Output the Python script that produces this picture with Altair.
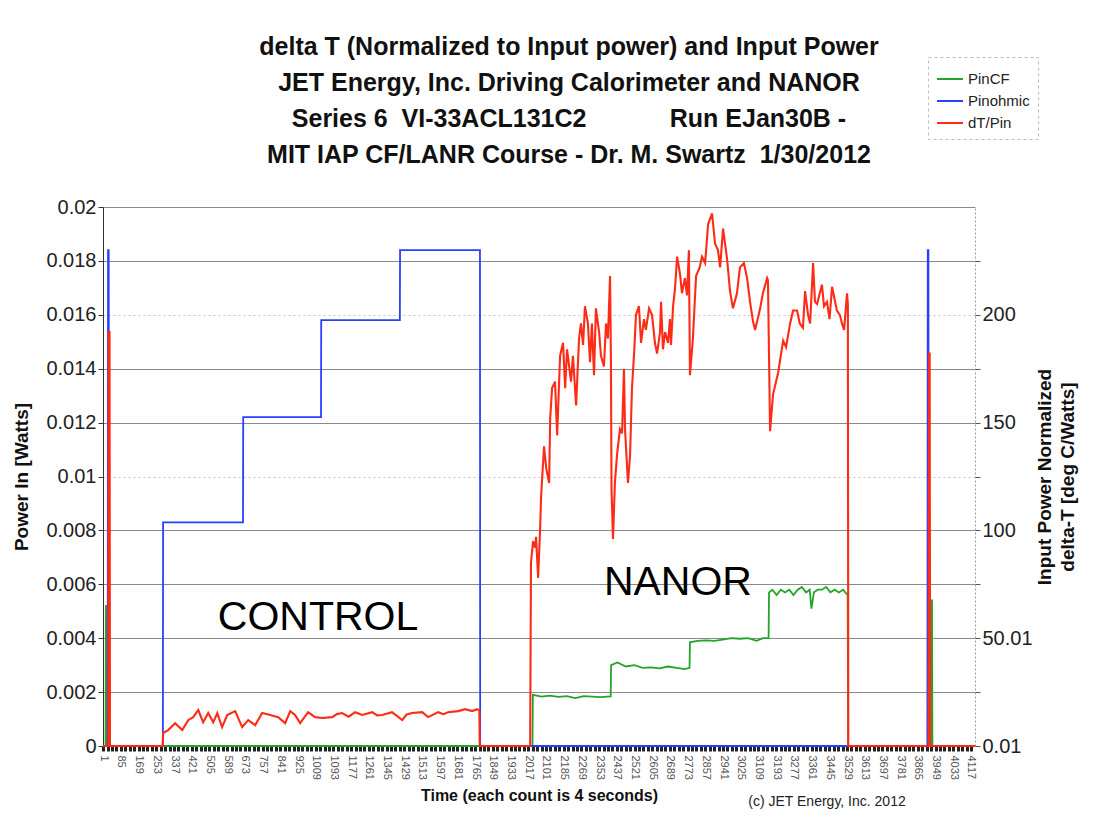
import altair as alt
import pandas as pd

# ---- data (x = count, left series in Watts, red in deg C/Watts)
pinohmic = [(0, 0), (22, 0), (24, 0.0184), (27, 0.0184), (29, 0), (284, 0), (285, 0.0083),
            (664, 0.0083), (665, 0.0122), (1034, 0.0122), (1035, 0.0158), (1408, 0.0158),
            (1409, 0.0184), (1788, 0.0184), (1789, 0), (3910, 0), (3912, 0.0184),
            (3915, 0.0184), (3917, 0), (4136, 0)]

pincf = [(0, 0), (12, 0), (14, 0.0052), (17, 0.0052), (19, 0), (2037, 0), (2039, 0.0019),
         (2080, 0.00183), (2120, 0.00187), (2160, 0.00182), (2200, 0.00185), (2240, 0.00178),
         (2280, 0.00185), (2320, 0.00183), (2360, 0.00181), (2408, 0.00184), (2410, 0.0030),
         (2440, 0.0031), (2480, 0.00295), (2520, 0.0030), (2560, 0.0029), (2600, 0.00292),
         (2640, 0.00288), (2680, 0.00295), (2720, 0.0029), (2760, 0.00285), (2782, 0.0029),
         (2784, 0.00385), (2820, 0.0039), (2860, 0.00392), (2900, 0.0039), (2940, 0.00395),
         (2980, 0.0040), (3020, 0.00398), (3060, 0.0040), (3100, 0.0039), (3130, 0.0040),
         (3157, 0.0040), (3159, 0.0057), (3175, 0.0058), (3195, 0.0056), (3215, 0.0058),
         (3235, 0.0057), (3255, 0.0058), (3275, 0.0056), (3295, 0.0058), (3315, 0.0059),
         (3335, 0.0057), (3352, 0.0058), (3360, 0.0051), (3372, 0.0057), (3390, 0.0058),
         (3410, 0.0058), (3430, 0.0059), (3450, 0.0057), (3470, 0.0058), (3490, 0.0057),
         (3510, 0.0058), (3532, 0.0056), (3534, 0), (3927, 0), (3929, 0.0054), (3932, 0.0054),
         (3934, 0), (4136, 0)]

dt_pin_control = [(0, 0.01), (25, 0.01), (27, 192), (31, 192), (33, 0.01), (283, 0.01),
                  (285, 6), (309, 7.4), (342, 10.6), (376, 7.4), (404, 12), (428, 13.4),
                  (452, 16.7), (475, 11), (499, 15.3), (523, 11), (542, 15.3), (565, 8.8),
                  (589, 14.4), (627, 16.2), (660, 8.8), (689, 12), (722, 9.7), (755, 15.3),
                  (793, 14.4), (831, 13.4), (864, 10.6), (888, 16.2), (911, 14.4), (935, 10.6),
                  (973, 15.7), (1006, 13.4), (1040, 13), (1087, 13.4), (1110, 14.8),
                  (1134, 15.3), (1165, 13.6), (1196, 15.7), (1229, 14.4), (1277, 15.7),
                  (1300, 14.2), (1324, 14.4), (1371, 15.7), (1419, 12), (1440, 14.6),
                  (1466, 15.3), (1514, 15.7), (1542, 13.4), (1590, 15.7), (1615, 14.8),
                  (1637, 15.7), (1685, 16.2), (1718, 17.1), (1751, 16.2), (1775, 17.1),
                  (1785, 16.5), (1787, 0.01), (2026, 0.01)]

dt_pin_nanor = [(2030, 85), (2040, 95), (2050, 92), (2054, 97), (2064, 78), (2073, 100),
                (2078, 116), (2092, 139), (2102, 129), (2116, 122), (2121, 152), (2130, 166),
                (2144, 169), (2154, 144), (2168, 181), (2182, 187), (2192, 166), (2201, 184),
                (2220, 169), (2229, 181), (2244, 158), (2258, 189), (2267, 196), (2277, 186),
                (2286, 204), (2300, 196), (2310, 178), (2319, 196), (2329, 172), (2338, 203),
                (2353, 192), (2362, 181), (2376, 176), (2386, 196), (2395, 189), (2405, 218),
                (2409, 181), (2412, 119), (2419, 96), (2428, 122), (2438, 135), (2452, 147),
                (2462, 145), (2471, 175), (2476, 147), (2490, 122), (2500, 135), (2509, 166),
                (2519, 182), (2528, 200), (2542, 204), (2552, 187), (2566, 198), (2575, 193),
                (2590, 203), (2604, 200), (2618, 187), (2628, 182), (2642, 192), (2647, 206),
                (2656, 184), (2666, 192), (2680, 187), (2689, 198), (2694, 186), (2704, 204),
                (2713, 212), (2723, 227), (2737, 219), (2746, 210), (2760, 217), (2770, 209),
                (2779, 230), (2784, 172), (2798, 189), (2813, 218), (2830, 222), (2841, 227),
                (2856, 224), (2870, 242), (2889, 247), (2903, 233), (2917, 230), (2927, 222),
                (2941, 240), (2960, 226), (2974, 211), (2988, 203), (3007, 210), (3021, 222),
                (3040, 224), (3055, 217), (3069, 206), (3083, 197), (3093, 193), (3117, 203),
                (3130, 210), (3150, 217), (3154, 216), (3164, 146), (3178, 163), (3190, 168),
                (3202, 173), (3226, 188), (3240, 185), (3259, 196), (3273, 202), (3292, 202),
                (3305, 196), (3320, 194), (3330, 211), (3344, 200), (3354, 196), (3368, 224),
                (3377, 206), (3387, 205), (3410, 214), (3420, 204), (3434, 206), (3446, 198),
                (3458, 213), (3481, 202), (3495, 200), (3505, 196), (3515, 193), (3529, 210),
                (3533, 205), (3535, 0.01), (3916, 0.01), (3918, 182), (3921, 182),
                (3923, 0.01), (4136, 0.01)]

series_names = ["PinCF", "Pinohmic", "dT/Pin"]
series_colors = ["#22a52a", "#2b40ff", "#ff2b16"]

left_ticks = [0, 0.002, 0.004, 0.006, 0.008, 0.01, 0.012, 0.014, 0.016, 0.018, 0.02]
right_ticks = [0.01, 25.01, 50.01, 75.01, 100.01, 125.01, 150.01, 175.01, 200.01, 225.01]
x_ticks = list(range(1, 4137, 21))

annotations = pd.DataFrame({"count": [1020, 2727], "value": [0.00474, 0.00604],
                            "label": ["CONTROL", "NANOR"]})

NB = "\u00a0"
title_lines = [
    "delta T (Normalized to Input power) and Input Power",
    "JET Energy, Inc. Driving Calorimeter and NANOR",
    "Series 6 " + NB + "VI-33ACL131C2" + NB * 12 + "Run EJan30B -",
    "MIT IAP CF/LANR Course - Dr. M. Swartz " + NB + "1/30/2012",
]

# ---- tables
def frame(points, name):
    return pd.DataFrame({"count": [p[0] for p in points],
                         "value": [p[1] for p in points],
                         "series": name})

left_df = pd.concat([frame(pincf, "PinCF"), frame(pinohmic, "Pinohmic")], ignore_index=True)
left_df["order"] = range(len(left_df))
red_df = frame(dt_pin_control + dt_pin_nanor, "dT/Pin")
red_df["order"] = range(len(red_df))

FONT = "Liberation Sans"

x_axis = alt.Axis(values=x_ticks,
                  labelExpr="(datum.value - 1) % 84 == 0 ? datum.value : ''",
                  labelAngle=90, labelAlign="left", labelBaseline="middle",
                  labelFontSize=11, labelColor="#555", labelOverlap=False, labelFlush=False,
                  labelPadding=4, tickSize=5, tickWidth=3, tickColor="#222",
                  domainColor="#444", grid=False,
                  title="Time (each count is 4 seconds)", titleFontSize=16,
                  titleFontWeight="bold", titleColor="#111", titlePadding=8)
x_enc = alt.X("count:Q", scale=alt.Scale(domain=[0, 4136], nice=False, zero=False), axis=x_axis)

dotted_test = "datum.value == 0.01 || abs(datum.value - 0.016) < 1e-9"
y_left_axis = alt.Axis(values=left_ticks, format="~g", labelFontSize=20, labelColor="#222",
                       tickSize=5, tickColor="#333", domainColor="#333", grid=True,
                       gridColor={"condition": {"test": dotted_test, "value": "#c4c4c4"},
                                  "value": "#8a8a8a"},
                       gridDash={"condition": {"test": dotted_test, "value": [2, 3]},
                                 "value": []},
                       title="Power In [Watts]", titleFontSize=19, titleFontWeight="bold",
                       titleColor="#111", titlePadding=14)
y_left = alt.Y("value:Q", scale=alt.Scale(domain=[0, 0.02], nice=False), axis=y_left_axis)

y_right_axis = alt.Axis(orient="right", values=right_ticks,
                        labelExpr="round((datum.value - 0.01) / 25) % 2 == 0 ? "
                                  "(datum.value < 100 ? format(datum.value, '.2f') : "
                                  "format(datum.value, '.0f')) : ''",
                        labelFontSize=20, labelColor="#222", tickSize=5, tickColor="#555",
                        domainColor="#999", domainDash=[2, 2], grid=False,
                        title=["Input Power Normalized", "delta-T [deg C/Watts]"],
                        titleAngle=270,
                        titleFontSize=19, titleFontWeight="bold", titleColor="#111",
                        titleLineHeight=23, titlePadding=-1)
y_right = alt.Y("value:Q", scale=alt.Scale(domain=[0.01, 250.01], nice=False, zero=False),
                axis=y_right_axis)

legend = alt.Legend(orient="none", legendX=825, legendY=-150, title=None,
                    symbolType="stroke", symbolSize=676, symbolStrokeWidth=2,
                    labelFontSize=15, labelColor="#222", labelOffset=4, rowPadding=0,
                    padding=8, strokeColor="#bbbbbb")
color_enc = alt.Color("series:N", scale=alt.Scale(domain=series_names, range=series_colors),
                      legend=legend)

left_lines = alt.Chart(left_df).mark_line(strokeWidth=1.8).encode(
    x=x_enc, y=y_left, color=color_enc, order="order:Q")

labels = alt.Chart(annotations).mark_text(fontSize=41, color="#000", font=FONT).encode(
    x=x_enc, y=y_left, text="label:N")

copyright_txt = alt.Chart(pd.DataFrame({"t": ["(c) JET Energy, Inc. 2012"]})).mark_text(
    fontSize=14, color="#222", font=FONT).encode(
    x=alt.value(724), y=alt.value(595), text="t:N")

left_group = alt.layer(left_lines, labels, copyright_txt)

red_line = alt.Chart(red_df).mark_line(strokeWidth=2.1).encode(
    x=x_enc, y=y_right, color=color_enc, order="order:Q")

chart = alt.layer(left_group, red_line).resolve_scale(y="independent").properties(
    width=872, height=539,
    autosize=alt.AutoSizeParams(type="none"),
    padding={"left": 95, "top": 199, "right": 115, "bottom": 66},
    title=alt.TitleParams(text=title_lines, fontSize=25, fontWeight="bold", font=FONT,
                          color="#111", lineHeight=36, anchor="middle", frame="group",
                          dx=30, dy=141, offset=30),
).configure(font=FONT).configure_view(stroke=None).configure_legend(strokeDash=[3, 3])

chart.save("out.html", embed_options={"renderer": "svg", "actions": False})
